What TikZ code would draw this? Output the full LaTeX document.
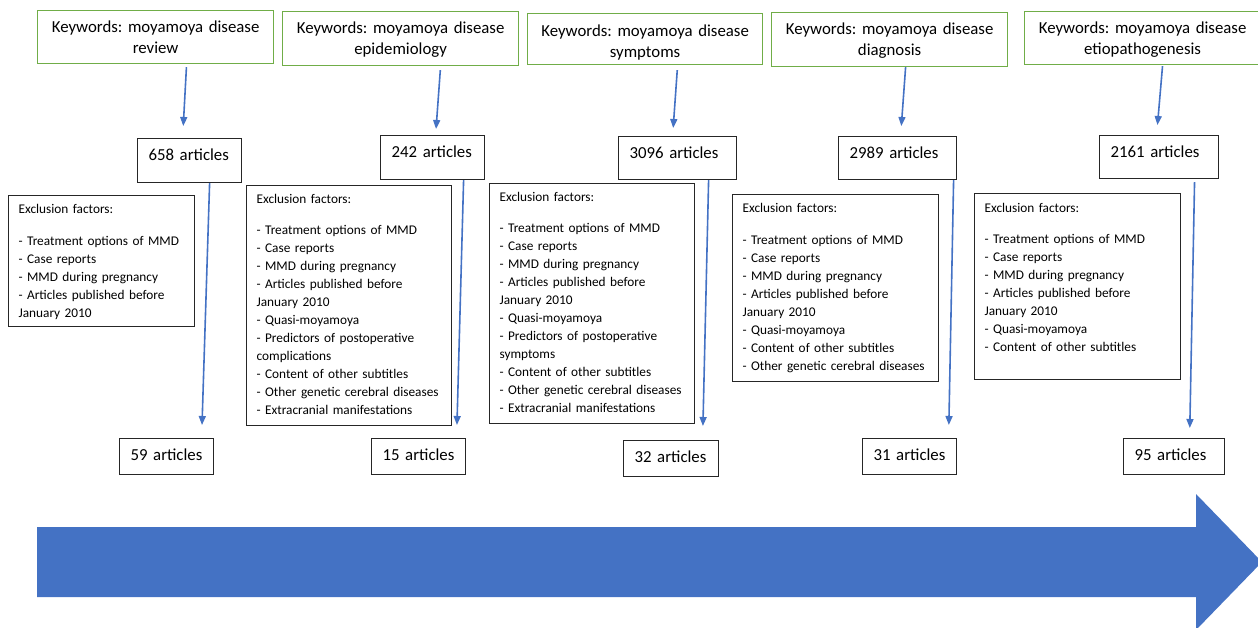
\documentclass[tikz,border=0pt]{standalone}
\usepackage{fontspec}
\setmainfont{Carlito}
\usetikzlibrary{arrows.meta}
\definecolor{kwgreen}{HTML}{70AD47}
\definecolor{flowblue}{HTML}{4472C4}
\frenchspacing

\begin{document}
\begin{tikzpicture}[x=1pt, y=-1pt,
    kwbox/.style={draw=kwgreen, line width=1.2pt, anchor=north west, align=center,
        inner xsep=4pt, inner ysep=0pt, text height=22pt, font=\fontsize{16.8}{21}\selectfont},
    countbox/.style={draw=black!85, line width=1.2pt, anchor=north west, align=left,
        inner xsep=11pt, inner ysep=0pt, text height=22pt, font=\fontsize{16.8}{21}\selectfont},
    exclbox/.style={draw=black!85, line width=1.2pt, anchor=north west, align=left,
        inner xsep=10pt, inner ysep=0pt, font=\fontsize{13.3}{18}\selectfont},
    flow/.style={draw=flowblue, line width=1.6pt, -{Triangle[length=9pt, width=7pt]}}]

            \useasboundingbox (0,0) rectangle (1258,628);

            % Timeline arrow
            \fill[flowblue] (37,527) -- (1196,527) -- (1196,494) -- (1262,562)
                -- (1196,630) -- (1196,597) -- (37,597) -- cycle;

            % Keyword searches
            \node[kwbox, text width=228pt, text depth=31pt] (kw1) at (37,10) {Keywords: moyamoya disease\\review};
            \node[kwbox, text width=228pt, text depth=32pt] (kw2) at (282,11) {Keywords: moyamoya disease\\epidemiology};
            \node[kwbox, text width=227pt, text height=23pt, text depth=28pt] (kw3) at (527,13) {Keywords: moyamoya disease\\symptoms};
            \node[kwbox, text width=228pt, text height=21.5pt, text depth=32.5pt] (kw4) at (771,12) {Keywords: moyamoya disease\\diagnosis};
            \node[kwbox, text width=228pt, text depth=31pt] (kw5) at (1024,11) {Keywords: moyamoya disease\\etiopathogenesis};

            % Articles found
            \node[countbox, text width=82pt, text depth=22pt] (top1) at (137,138) {658 articles};
            \node[countbox, text width=82pt, text depth=22pt] (top2) at (380,135) {242 articles};
            \node[countbox, text width=96pt, text depth=21pt] (top3) at (618,136) {3096 articles};
            \node[countbox, text width=96pt, text depth=21pt] (top4) at (838,136) {2989 articles};
            \node[countbox, text width=97pt, text depth=21pt] (top5) at (1099,135) {2161 articles};

            % Exclusion factors
            \node[exclbox, text width=166pt, text height=18pt, text depth=113pt] (excl1) at (8,195) {Exclusion factors:\\[13.5pt]
                - Treatment options of MMD\\- Case reports\\- MMD during pregnancy\\- Articles published before\\January 2010};
            \node[exclbox, text width=185pt, text height=17.5pt, text depth=222.5pt] (excl2) at (246,185) {Exclusion factors:\\[13.5pt]
                - Treatment options of MMD\\- Case reports\\- MMD during pregnancy\\- Articles published before\\January 2010\\- Quasi-moyamoya\\
                - Predictors of postoperative\\complications\\- Content of other subtitles\\- Other genetic cerebral diseases\\- Extracranial manifestations};
            \node[exclbox, text width=185pt, text height=17.7pt, text depth=222.3pt] (excl3) at (489,183) {Exclusion factors:\\[13.5pt]
                - Treatment options of MMD\\- Case reports\\- MMD during pregnancy\\- Articles published before\\January 2010\\- Quasi-moyamoya\\
                - Predictors of postoperative\\symptoms\\- Content of other subtitles\\- Other genetic cerebral diseases\\- Extracranial manifestations};
            \node[exclbox, text width=186pt, text height=18.3pt, text depth=168.7pt] (excl4) at (732,194) {Exclusion factors:\\[13.5pt]
                - Treatment options of MMD\\- Case reports\\- MMD during pregnancy\\- Articles published before\\January 2010\\- Quasi-moyamoya\\
                - Content of other subtitles\\- Other genetic cerebral diseases};
            \node[exclbox, text width=186pt, text height=18.7pt, text depth=167.3pt] (excl5) at (974,193) {Exclusion factors:\\[13.5pt]
                - Treatment options of MMD\\- Case reports\\- MMD during pregnancy\\- Articles published before\\January 2010\\- Quasi-moyamoya\\
                - Content of other subtitles};

            % Articles kept
            \node[countbox, text width=72pt, text depth=14pt] (res1) at (119,438) {59 articles};
            \node[countbox, text width=72pt, text depth=14pt] (res2) at (371,438) {15 articles};
            \node[countbox, text width=73pt, text depth=14pt] (res3) at (623,440) {32 articles};
            \node[countbox, text width=72pt, text depth=14pt] (res4) at (862,438) {31 articles};
            \node[countbox, text width=79pt, text depth=14pt] (res5) at (1123,438) {95 articles};

            % Search -> found
            \foreach \i/\a/\b/\c/\d in {1/31/3/-7/12, 2/40/4/3/6, 3/32.5/5/-5/8, 4/16/0/3/10, 5/20/1/-2.5/10}
            \draw[flow, shorten <=\b pt, shorten >=\d pt] ([xshift=\a pt]kw\i.south) -- ([xshift=\c pt]top\i.north);

            % Found -> kept
            \foreach \i/\a/\b/\c/\d in {1/20/0/35/13, 2/31/0/38/13, 3/31/0/31.5/14, 4/56/0/39/13, 5/35.5/3/15.5/10}
            \draw[flow, shorten <=\b pt, shorten >=\d pt] ([xshift=\a pt]top\i.south) -- ([xshift=\c pt]res\i.north);

        \end{tikzpicture}
\end{document}
